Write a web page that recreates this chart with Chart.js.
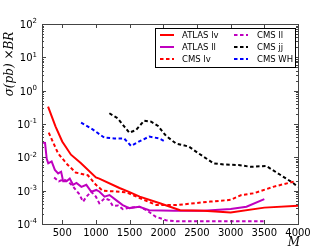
<!DOCTYPE html>
<html>
<head>
<meta charset="utf-8">
<script src="https://cdn.jsdelivr.net/npm/chart.js@4.4.1/dist/chart.umd.min.js"></script>
<style>
  body { margin: 0; background: #fff; }
  canvas { display: block; }
</style>
</head>
<body>
<canvas id="myChart" width="332" height="249"></canvas>
<script>
// values (M in GeV, sigma x BR in pb)
const massAtlasLv = [290, 400, 500, 630, 775, 1000, 1050, 1350, 1500, 1650, 1950, 2250, 2600, 3000, 3500, 4000];
const xsAtlasLv = [0.33, 0.085, 0.03, 0.012, 0.0068, 0.0025, 0.0023, 0.0012, 0.0009, 0.00066, 0.00042, 0.00026, 0.00025, 0.00022, 0.00031, 0.00035];

const massAtlasLl = [200, 245, 270, 293, 343, 391, 440, 484, 514, 564, 612, 661, 711, 785, 858, 932, 1006, 1054, 1128, 1202, 1300, 1398, 1496, 1644, 1791, 2160, 2600, 3000, 3235, 3500];
const xsAtlasLl = [0.028, 0.027, 0.009, 0.0066, 0.0075, 0.0042, 0.0033, 0.0037, 0.0019, 0.0019, 0.0023, 0.0015, 0.0017, 0.0013, 0.0015, 0.00093, 0.00105, 0.00093, 0.00066, 0.00074, 0.00052, 0.00037, 0.0003, 0.00033, 0.00026, 0.00025, 0.00025, 0.00028, 0.00033, 0.00056];

const massCmsLv = [300, 440, 580, 700, 880, 1000, 1100, 1450, 1650, 1900, 2200, 2700, 3000, 3160, 3340, 3630, 3950];
const xsCmsLv = [0.055, 0.013, 0.006, 0.0035, 0.0029, 0.0015, 0.001, 0.0009, 0.0006, 0.00037, 0.00037, 0.00047, 0.00053, 0.00074, 0.00083, 0.0013, 0.0019];

const massCmsLl = [380, 450, 520, 600, 680, 750, 810, 860, 930, 1000, 1050, 1130, 1200, 1250, 1330, 1400, 1500, 1650, 1750, 1890, 2040, 2200, 2500, 3000, 3500];
const xsCmsLl = [0.0025, 0.0019, 0.0022, 0.0018, 0.0012, 0.0008, 0.00047, 0.00066, 0.00093, 0.00066, 0.00042, 0.00059, 0.00052, 0.00035, 0.00036, 0.00028, 0.00031, 0.00033, 0.00026, 0.000165, 0.00013, 0.00012, 0.00012, 0.00012, 0.00012];

const massCmsJj = [1200, 1324, 1423, 1496, 1595, 1717, 1820, 1923, 2041, 2189, 2380, 2527, 2748, 2895, 3117, 3293, 3529, 3735, 3927, 4000];
const xsCmsJj = [0.21, 0.148, 0.083, 0.055, 0.066, 0.126, 0.117, 0.087, 0.044, 0.026, 0.021, 0.013, 0.0066, 0.0061, 0.0059, 0.0052, 0.0055, 0.003, 0.0017, 0.0013];

const massCmsWh = [780, 951, 1124, 1271, 1418, 1521, 1644, 1791, 1938, 2037];
const xsCmsWh = [0.11, 0.069, 0.039, 0.037, 0.037, 0.022, 0.03, 0.042, 0.037, 0.029];

const xTicks = [500, 1000, 1500, 2000, 2500, 3000, 3500, 4000];
const yExponents = [-4, -3, -2, -1, 0, 1, 2];

const seriesLabels = ["ATLAS lv", "ATLAS ll", "CMS lv", "CMS ll", "CMS jj", "CMS WH"];

function pairs(xs, ys) {
  return xs.map((x, i) => ({ x: x, y: ys[i] }));
}

const dash = [3.5, 2.5];
const magenta = "#bf00bf";

const datasets = [
  { label: seriesLabels[0], data: pairs(massAtlasLv, xsAtlasLv), borderColor: "#ff0000", borderDash: [] },
  { label: seriesLabels[1], data: pairs(massAtlasLl, xsAtlasLl), borderColor: magenta, borderDash: [] },
  { label: seriesLabels[2], data: pairs(massCmsLv, xsCmsLv), borderColor: "#ff0000", borderDash: dash },
  { label: seriesLabels[3], data: pairs(massCmsLl, xsCmsLl), borderColor: magenta, borderDash: dash },
  { label: seriesLabels[4], data: pairs(massCmsJj, xsCmsJj), borderColor: "#000000", borderDash: dash },
  { label: seriesLabels[5], data: pairs(massCmsWh, xsCmsWh), borderColor: "#0000ff", borderDash: dash },
].map((d) => Object.assign(d, { borderWidth: 2, pointRadius: 0, fill: false, tension: 0 }));

// frame, inward ticks, y labels with exponents, axis titles, legend
const decorations = {
  id: "decorations",
  afterDatasetsDraw(chart) {
    const ctx = chart.ctx;
    const { left, right, top, bottom } = chart.chartArea;
    const xs = chart.scales.x;
    const ys = chart.scales.y;
    ctx.save();

    ctx.strokeStyle = "#444";
    ctx.lineWidth = 1;
    ctx.beginPath();
    xTicks.forEach((v) => {
      const px = Math.round(xs.getPixelForValue(v)) + 0.5;
      ctx.moveTo(px, bottom); ctx.lineTo(px, bottom - 4);
      ctx.moveTo(px, top); ctx.lineTo(px, top + 4);
    });
    yExponents.forEach((e) => {
      const py = Math.round(ys.getPixelForValue(Math.pow(10, e))) + 0.5;
      ctx.moveTo(left, py); ctx.lineTo(left + 4, py);
      ctx.moveTo(right, py); ctx.lineTo(right - 4, py);
      if (e < 2) {
        for (let k = 2; k <= 9; k++) {
          const pm = Math.round(ys.getPixelForValue(k * Math.pow(10, e))) + 0.5;
          ctx.moveTo(left, pm); ctx.lineTo(left + 2, pm);
          ctx.moveTo(right, pm); ctx.lineTo(right - 2, pm);
        }
      }
    });
    ctx.stroke();
    ctx.strokeRect(Math.round(left) + 0.5, Math.round(top) + 0.5, Math.round(right - left), Math.round(bottom - top));

    // y tick labels 10^n
    ctx.fillStyle = "#000";
    ctx.textBaseline = "middle";
    ctx.textAlign = "right";
    yExponents.forEach((e) => {
      const py = ys.getPixelForValue(Math.pow(10, e));
      const sup = e < 0 ? "-" + Math.abs(e) : String(e);
      ctx.font = "7px 'DejaVu Sans'";
      const w = ctx.measureText(sup).width;
      ctx.fillText(sup, 37, py - 2.5);
      ctx.font = "10px 'DejaVu Sans'";
      ctx.fillText("10", 37 - w, py + 1.5);
    });

    // axis titles
    ctx.font = "italic 12px 'DejaVu Serif'";
    ctx.textAlign = "center";
    ctx.fillText("M", 294, 243);
    ctx.translate(10, 64);
    ctx.rotate(-Math.PI / 2);
    ctx.fillText("\u03c3(pb) \u00d7BR", 0, 0);
    ctx.setTransform(1, 0, 0, 1, 0, 0);

    // legend box
    ctx.fillStyle = "#fff";
    ctx.fillRect(155.5, 28.5, 140, 39);
    ctx.strokeStyle = "#000";
    ctx.strokeRect(155.5, 28.5, 140, 39);
    ctx.font = "8.5px 'DejaVu Sans'";
    ctx.textAlign = "left";
    const rows = [35, 47, 59];
    chart.data.datasets.forEach((d, i) => {
      const col = Math.floor(i / 3);
      const y = rows[i % 3];
      const x0 = col === 0 ? 160 : 234;
      ctx.strokeStyle = d.borderColor;
      ctx.lineWidth = 2;
      ctx.setLineDash(d.borderDash);
      ctx.beginPath();
      ctx.moveTo(x0, y);
      ctx.lineTo(x0 + 14, y);
      ctx.stroke();
      ctx.setLineDash([]);
      ctx.fillStyle = "#000";
      ctx.fillText(d.label, col === 0 ? 182 : 257, y + 0.5);
    });
    ctx.restore();
  },
};

const chart = new Chart(document.getElementById("myChart"), {
  type: "line",
  data: { datasets: datasets },
  plugins: [decorations],
  options: {
    responsive: false,
    animation: false,
    devicePixelRatio: 1,
    layout: { padding: { top: 24, right: 34, left: 0, bottom: 0 } },
    plugins: { legend: { display: false }, tooltip: { enabled: false } },
    scales: {
      x: {
        type: "linear",
        min: 200,
        max: 4000,
        afterBuildTicks: (scale) => {
          scale.ticks = xTicks.map((v) => ({ value: v }));
        },
        afterFit: (scale) => { scale.height = 25; },
        grid: { display: false, drawTicks: false, tickLength: 0 },
        border: { display: false },
        ticks: {
          color: "#000",
          padding: 3,
          maxRotation: 0,
          autoSkip: false,
          font: { family: "DejaVu Sans", size: 10 },
          callback: (value) => String(value),
        },
      },
      y: {
        type: "logarithmic",
        min: 1e-4,
        max: 100,
        afterBuildTicks: (scale) => {
          scale.ticks = yExponents.map((e) => ({ value: Math.pow(10, e) }));
        },
        afterFit: (scale) => { scale.width = 42; },
        grid: { display: false },
        border: { display: false },
        ticks: { display: false },
      },
    },
  },
});
</script>
</body>
</html>
